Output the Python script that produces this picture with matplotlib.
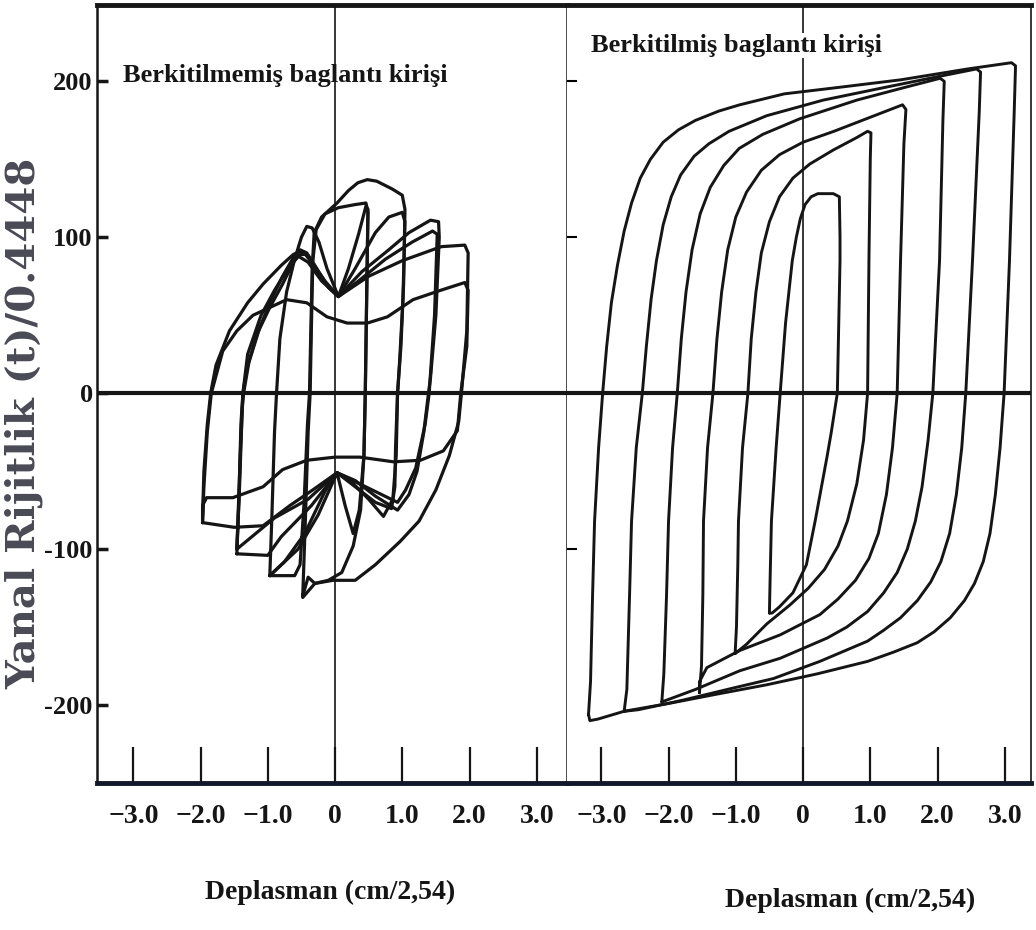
import matplotlib.pyplot as plt

# ---------- data (x = Deplasman, y = Yanal Rijitlik) ----------
x_ticks = [-3.0, -2.0, -1.0, 0.0, 1.0, 2.0, 3.0]
x_tick_labels = ["\u22123.0", "\u22122.0", "\u22121.0", "0", "1.0", "2.0", "3.0"]
y_ticks = [-200, -100, 0, 100, 200]
y_tick_labels = ["-200", "-100", "0", "100", "200"]

# left panel: unstiffened link, pinched loops
left_loops = [
    [(-0.48, -130), (-0.44, -80), (-0.40, -25), (-0.37, 0), (-0.35, 45), (-0.33, 85),
     (-0.28, 105), (-0.15, 115), (0.05, 119), (0.30, 121), (0.46, 122), (0.49, 116),
     (0.47, 60), (0.45, 0), (0.43, -40), (0.38, -75), (0.27, -98), (0.10, -115),
     (-0.10, -120), (-0.30, -122), (-0.40, -118), (-0.48, -130)],
    [(-0.97, -117), (-0.60, -117), (-0.52, -110), (-0.46, -70), (-0.41, -20), (-0.38, 0),
     (-0.36, 40), (-0.34, 80), (-0.31, 103), (-0.20, 113), (0.03, 122), (0.20, 130),
     (0.34, 135), (0.48, 137), (0.62, 136), (0.85, 131), (1.00, 127), (1.04, 118),
     (1.02, 70), (0.98, 30), (0.93, 0), (0.90, -35), (0.89, -60), (0.84, -74),
     (0.60, -70), (0.30, -60), (0.03, -51), (-0.15, -63), (-0.45, -90), (-0.75, -108),
     (-0.97, -117)],
    [(-0.97, -117), (-0.94, -80), (-0.90, -25), (-0.87, 0), (-0.82, 35), (-0.72, 65),
     (-0.60, 86), (-0.50, 100), (-0.42, 107), (-0.34, 106), (-0.24, 97), (-0.12, 80),
     (0.05, 62), (0.20, 80), (0.35, 102), (0.46, 120), (0.49, 118), (0.47, 60),
     (0.45, 0), (0.43, -40), (0.36, -75), (0.27, -90), (0.15, -72), (0.03, -51),
     (-0.25, -78), (-0.55, -100), (-0.97, -117)],
    [(-1.46, -103), (-1.43, -70), (-1.40, -20), (-1.37, 0), (-1.31, 16), (-1.16, 38),
     (-0.97, 55), (-0.78, 70), (-0.62, 84), (-0.52, 89), (-0.44, 89), (-0.35, 84),
     (-0.15, 72), (0.05, 62), (0.30, 80), (0.60, 103), (0.80, 113), (1.00, 116),
     (1.04, 110), (1.01, 60), (0.96, 20), (0.93, 0), (0.91, -40), (0.86, -68),
     (0.72, -79), (0.50, -68), (0.25, -57), (0.03, -51), (-0.35, -72), (-0.80, -92),
     (-1.00, -104), (-1.46, -103)],
    [(-1.46, -100), (-1.42, -60), (-1.38, -10), (-1.36, 0), (-1.28, 20), (-1.12, 42),
     (-0.95, 60), (-0.78, 75), (-0.62, 87), (-0.52, 92), (-0.42, 90), (-0.30, 82),
     (-0.10, 68), (0.05, 62), (0.40, 78), (0.80, 92), (1.10, 103), (1.42, 111),
     (1.54, 110), (1.55, 100), (1.50, 50), (1.42, 10), (1.39, 0), (1.32, -25),
     (1.22, -50), (1.10, -65), (0.93, -75), (0.60, -66), (0.30, -56), (0.03, -51),
     (-0.33, -62), (-0.67, -72), (-1.07, -85), (-1.50, -86), (-1.97, -83)],
    [(-1.97, -79), (-1.95, -50), (-1.90, -20), (-1.85, 0), (-1.77, 18), (-1.57, 40),
     (-1.30, 58), (-1.07, 70), (-0.80, 82), (-0.62, 89), (-0.52, 91), (-0.40, 88),
     (-0.28, 80), (-0.10, 68), (0.05, 62), (0.50, 75), (1.00, 85), (1.58, 94),
     (1.93, 95), (1.98, 90), (1.96, 40), (1.88, 0), (1.84, -18), (1.70, -40),
     (1.50, -62), (1.25, -82), (0.97, -95), (0.60, -110), (0.30, -120), (-0.03, -120),
     (-0.30, -122), (-0.48, -131)],
    [(-1.97, -83), (-1.95, -60), (-1.90, -25), (-1.84, 0), (-1.67, 27), (-1.46, 40),
     (-1.22, 50), (-0.97, 55), (-0.72, 60), (-0.42, 58), (-0.12, 49), (0.18, 45),
     (0.48, 45), (0.78, 49), (1.16, 60), (1.57, 66), (1.93, 71), (1.98, 66),
     (1.96, 30), (1.87, 0), (1.82, -24), (1.61, -37), (1.27, -43), (0.87, -44),
     (0.37, -41), (0.00, -41), (-0.42, -43), (-0.78, -49), (-1.07, -60),
     (-1.52, -67), (-1.91, -67), (-1.97, -72), (-1.97, -83)],
    [(-1.46, -100), (-1.41, -40), (-1.37, 0), (-1.30, 25), (-1.10, 50), (-0.90, 66),
     (-0.70, 80), (-0.55, 88), (-0.40, 84), (-0.20, 72), (0.05, 62), (0.35, 72),
     (0.75, 86), (1.15, 97), (1.45, 104), (1.52, 102), (1.48, 50), (1.40, 0),
     (1.34, -20), (1.20, -48), (1.05, -62), (0.93, -70), (0.55, -62), (0.03, -51),
     (-0.40, -68), (-0.90, -80), (-1.46, -100)],
]

# right panel: stiffened link, full loops
right_loops = [
    [(-3.19, -206), (-3.16, -185), (-3.13, -130), (-3.10, -82), (-3.04, -35), (-2.98, 0),
     (-2.92, 30), (-2.85, 58), (-2.76, 82), (-2.66, 104), (-2.55, 122), (-2.42, 138),
     (-2.27, 150), (-2.08, 161), (-1.85, 169), (-1.60, 175), (-1.25, 181), (-0.94, 185),
     (-0.28, 192), (0.50, 196), (1.45, 201), (2.45, 208), (3.10, 212), (3.16, 210),
     (3.14, 180), (3.07, 85), (2.99, 0), (2.93, -35), (2.86, -65), (2.78, -90),
     (2.68, -108), (2.55, -122), (2.40, -133), (2.19, -144), (1.95, -153), (1.70, -160),
     (1.35, -166), (0.96, -172), (0.21, -180), (-0.54, -187), (-1.28, -193),
     (-2.00, -199), (-2.66, -204), (-3.05, -209), (-3.17, -210), (-3.19, -206)],
    [(-2.66, -204), (-2.62, -190), (-2.58, -130), (-2.55, -82), (-2.48, -35), (-2.39, 0),
     (-2.33, 30), (-2.26, 60), (-2.18, 85), (-2.08, 108), (-1.96, 126), (-1.82, 140),
     (-1.62, 152), (-1.40, 160), (-1.10, 168), (-0.54, 178), (0.30, 188), (1.20, 196),
     (2.00, 203), (2.58, 208), (2.64, 206), (2.62, 180), (2.52, 85), (2.42, 0),
     (2.36, -35), (2.28, -65), (2.18, -90), (2.05, -108), (1.90, -121), (1.70, -133),
     (1.45, -144), (1.20, -152), (0.96, -159), (0.25, -172), (-0.44, -183),
     (-1.03, -189), (-1.80, -197), (-2.45, -203), (-2.66, -204)],
    [(-2.10, -198), (-2.07, -180), (-2.03, -130), (-2.00, -82), (-1.94, -35), (-1.87, 0),
     (-1.81, 35), (-1.74, 65), (-1.65, 92), (-1.53, 115), (-1.38, 132), (-1.18, 146),
     (-0.95, 157), (-0.60, 166), (-0.05, 176), (0.80, 188), (1.50, 196), (2.04, 202),
     (2.10, 200), (2.08, 175), (2.03, 85), (1.93, 0), (1.86, -30), (1.77, -60),
     (1.67, -82), (1.55, -100), (1.40, -115), (1.20, -128), (0.96, -140), (0.65, -150),
     (0.36, -157), (-0.34, -170), (-0.94, -178), (-1.60, -190), (-2.10, -198)],
    [(-1.54, -192), (-1.51, -175), (-1.49, -130), (-1.48, -82), (-1.42, -35), (-1.34, 0),
     (-1.28, 35), (-1.21, 65), (-1.12, 92), (-1.00, 113), (-0.84, 129), (-0.62, 143),
     (-0.35, 153), (0.00, 161), (0.46, 168), (1.00, 177), (1.48, 185), (1.53, 182),
     (1.50, 160), (1.45, 85), (1.40, 0), (1.33, -35), (1.24, -65), (1.12, -90),
     (0.98, -106), (0.78, -120), (0.52, -132), (0.25, -142), (-0.34, -155),
     (-0.94, -165), (-1.43, -176), (-1.54, -185), (-1.54, -192)],
    [(-1.01, -167), (-0.99, -150), (-0.97, -110), (-0.96, -82), (-0.90, -35), (-0.82, 0),
     (-0.77, 35), (-0.70, 65), (-0.62, 90), (-0.50, 110), (-0.35, 126), (-0.15, 138),
     (0.10, 147), (0.45, 156), (0.80, 164), (0.96, 168), (1.01, 167), (1.00, 150),
     (0.98, 85), (0.96, 0), (0.90, -30), (0.80, -58), (0.66, -82), (0.52, -98),
     (0.32, -113), (0.08, -125), (-0.20, -136), (-0.54, -148), (-0.84, -161),
     (-1.01, -167)],
    [(-0.50, -141), (-0.49, -120), (-0.47, -82), (-0.40, -35), (-0.34, 0), (-0.26, 45),
     (-0.16, 85), (-0.10, 100), (-0.04, 112), (0.03, 121), (0.12, 126), (0.22, 128),
     (0.45, 128), (0.54, 126), (0.55, 100), (0.55, 85), (0.51, 0), (0.42, -25),
     (0.36, -40), (0.18, -82), (0.05, -110), (-0.15, -128), (-0.35, -137),
     (-0.46, -141), (-0.50, -141)],
]

left_title = "Berkitilmemiş baglantı kirişi"
right_title = "Berkitilmiş baglantı kirişi"
x_label = "Deplasman (cm/2,54)"
y_label = "Yanal Rijitlik (t)/0.4448"

# ---------- figure ----------
plt.rcParams['font.family'] = ['Liberation Serif', 'DejaVu Serif']
plt.rcParams['font.weight'] = 'bold'
ink = '#151515'

fig = plt.figure(figsize=(10.36, 9.30), dpi=100)
W, H = 1036.0, 930.0
ax_l = fig.add_axes([97 / W, 147 / H, 470 / W, 778 / H])
ax_r = fig.add_axes([567 / W, 147 / H, 464 / W, 778 / H])

for ax, loops, xlim, lw in ((ax_l, left_loops, (-3.54, 3.45), 2.3),
                            (ax_r, right_loops, (-3.51, 3.39), 2.1)):
    for loop in loops:
        xs = [p[0] for p in loop]
        ys = [p[1] for p in loop]
        ax.plot(xs, ys, color=ink, lw=lw, solid_joinstyle='round', solid_capstyle='round')
    ax.axhline(0, color=ink, lw=3.0)
    ax.axvline(0, color=ink, lw=1.2)
    ax.set_xlim(*xlim)
    ax.set_ylim(-250, 249)
    ax.set_xticks(x_ticks)
    ax.set_xticklabels(x_tick_labels)
    ax.tick_params(axis='x', direction='in', length=26, width=1.6, pad=15,
                   labelsize=20, colors=ink)
    ax.spines['top'].set_linewidth(3.5)
    ax.spines['bottom'].set_linewidth(3.5)
    ax.spines['bottom'].set_color('#10182a')
    ax.spines['left'].set_linewidth(1.8)
    ax.spines['right'].set_linewidth(1.8)
    for s in ax.spines.values():
        if s is not ax.spines['bottom']:
            s.set_color(ink)

ax_l.set_yticks(y_ticks)
ax_l.set_yticklabels(y_tick_labels)
ax_l.tick_params(axis='y', direction='in', length=8, width=2.5, pad=3,
                 labelsize=19, colors=ink)
ax_r.set_yticks([-100, 100, 200])
ax_r.tick_params(axis='y', direction='in', length=7, width=1.5, labelleft=False)
ax_r.spines['left'].set_visible(False)
ax_r.spines['right'].set_linewidth(1.2)

ax_l.text(-3.16, 204, left_title, fontsize=19, fontweight='bold', color=ink,
          ha='left', va='center')
ax_r.text(-3.16, 223, right_title, fontsize=19, fontweight='bold', color=ink,
          ha='left', va='center', bbox=dict(facecolor='white', edgecolor='none', pad=1))

fig.text(330 / W, 1 - 892 / H, x_label, fontsize=20, fontweight='bold', color=ink,
         ha='center', va='center')
fig.text(850 / W, 1 - 900 / H, x_label, fontsize=20, fontweight='bold', color=ink,
         ha='center', va='center')
fig.text(24 / W, 1 - 423 / H, y_label, fontsize=29, fontweight='bold', color='#4a4a56',
         ha='center', va='center', rotation=90, family=['DejaVu Serif'])

fig.savefig('out.png', dpi=100)
